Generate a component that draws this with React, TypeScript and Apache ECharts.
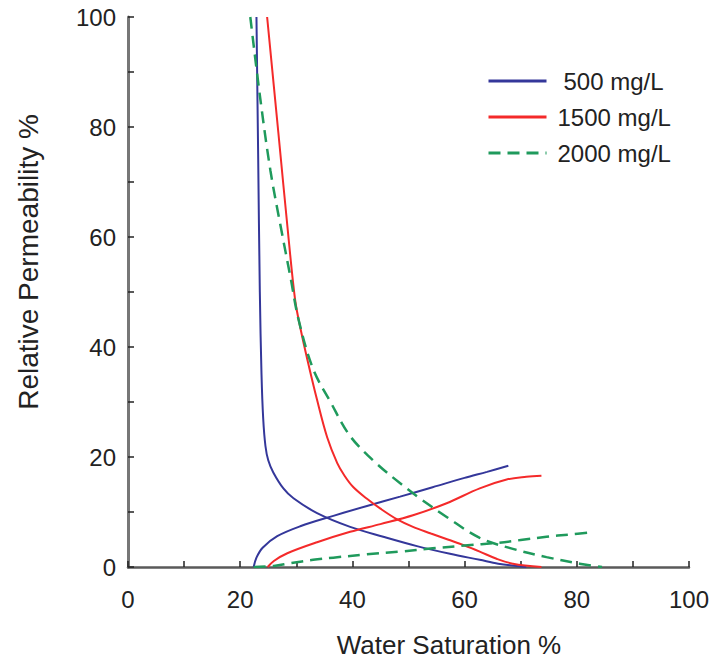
import React, { useEffect, useRef } from "react";
import * as echarts from "echarts";

const xTicks = [0, 20, 40, 60, 80, 100];
const yTicks = [0, 20, 40, 60, 80, 100];
const seriesNames = ["500 mg/L", "1500 mg/L", "2000 mg/L"];

// Water saturation (%) vs relative permeability (%)
const kro500 = [
  [22.9, 100], [23.2, 75], [23.5, 50], [23.8, 35], [24.1, 27], [24.5, 22],
  [25.0, 19.4], [25.9, 17.2], [27.7, 14.3], [29.5, 12.5], [33.7, 9.8],
  [39.6, 7.3], [45.5, 5.5], [51.5, 3.8], [57.4, 2.4], [62.7, 1.3],
  [66.0, 0.6], [71.0, 0],
];
const krw500 = [
  [22.4, 0], [22.9, 1.7], [24.0, 3.5], [26.6, 5.6], [30.7, 7.4], [36.6, 9.3],
  [42.6, 11.1], [48.5, 12.8], [54.3, 14.5], [60.0, 16.2], [64.0, 17.3], [67.8, 18.4],
];
const kro1500 = [
  [24.8, 100], [26.8, 79], [28.6, 60], [29.8, 48.5], [30.7, 43.6], [32.0, 37.6],
  [33.7, 30.4], [35.5, 23.6], [37.3, 18.9], [38.6, 16.6], [40.1, 14.6],
  [42.6, 12.4], [45.0, 10.6], [47.9, 8.7], [50.8, 7.3], [54.0, 6.1],
  [57.0, 5.0], [60.0, 3.9], [62.7, 2.8], [65.7, 1.5], [68.6, 0.6], [73.7, 0],
];
const krw1500 = [
  [24.9, 0], [26.0, 1.1], [28.4, 2.5], [33.7, 4.5], [39.6, 6.4], [45.0, 7.8],
  [50.8, 9.4], [56.8, 11.6], [62.7, 14.3], [67.5, 15.9], [71.0, 16.4], [73.7, 16.6],
];
const kro2000 = [
  [21.8, 100], [23.6, 85], [25.4, 72], [27.2, 62], [29.0, 52.5], [30.4, 45],
  [33.0, 36], [36.1, 30], [39.6, 23.8], [44.2, 18.9], [48.8, 15], [52.0, 12.5],
  [56.8, 9.1], [62.7, 5.3], [68.6, 3.3], [74.6, 1.8], [80.5, 0.6], [84.5, 0],
];
const krw2000 = [
  [22.4, 0], [26.0, 0.2], [29.0, 0.7], [33.0, 1.3], [36.6, 1.7], [42.6, 2.3],
  [48.5, 2.8], [54.3, 3.4], [60.0, 3.9], [66.0, 4.4], [70.0, 4.9], [74.6, 5.5],
  [78.6, 5.9], [82.6, 6.3],
];

const COLORS = ["#34379a", "#f42a2a", "#1f9a5c"];
const FONT = "'Liberation Sans', Arial, sans-serif";

export default function App() {
  const ref = useRef<HTMLDivElement>(null);
  useEffect(() => {
    if (!ref.current) return;
    const chart = echarts.init(ref.current, null, { renderer: "svg" });
    const mk = (name: string, data: number[][], idx: number) => ({
      name,
      type: "line",
      data,
      smooth: 0.35,
      symbol: "none",
      showSymbol: false,
      color: COLORS[idx],
      lineStyle: {
        color: COLORS[idx],
        width: idx === 2 ? 2.5 : 2,
        type: idx === 2 ? [12, 7] : "solid",
      },
    });
    const tickFmt = (list: number[]) => (v: number) =>
      list.includes(v) ? String(v) : "";
    chart.setOption({
      animation: false,
      grid: { left: 128, right: 22, top: 17, bottom: 94 },
      legend: {
        left: 482,
        top: 64,
        orient: "vertical",
        itemWidth: 58,
        itemHeight: 14,
        itemGap: 12,
        itemStyle: { opacity: 0 },
        lineStyle: { width: 3 },
        textStyle: {
          fontFamily: FONT,
          fontSize: 24,
          color: "#222",
          lineHeight: 24,
        },
        data: [
          { name: seriesNames[0], textStyle: { padding: [0, 0, 0, 12] } },
          { name: seriesNames[1], textStyle: { padding: [0, 0, 0, 6] } },
          { name: seriesNames[2], textStyle: { padding: [0, 0, 0, 6] } },
        ],
      },
      xAxis: {
        type: "value",
        min: 0,
        max: 100,
        interval: 10,
        splitLine: { show: false },
        axisLine: { lineStyle: { color: "#5a5a5a", width: 2.5 } },
        axisTick: { inside: true, length: 6, lineStyle: { color: "#222", width: 1.5 } },
        axisLabel: {
          formatter: tickFmt(xTicks),
          fontFamily: FONT,
          fontSize: 24,
          color: "#222",
          margin: 20,
        },
      },
      yAxis: {
        type: "value",
        min: 0,
        max: 100,
        interval: 10,
        splitLine: { show: false },
        axisLine: { show: true, lineStyle: { color: "#777", width: 3 } },
        axisTick: { show: true, inside: true, length: 6, lineStyle: { color: "#222", width: 1.5 } },
        axisLabel: {
          formatter: tickFmt(yTicks),
          fontFamily: FONT,
          fontSize: 24,
          color: "#222",
          margin: 12,
        },
      },
      graphic: [
        {
          type: "text",
          x: 28,
          y: 262,
          rotation: Math.PI / 2,
          style: {
            text: "Relative Permeability %",
            fontFamily: FONT,
            fontSize: 28,
            fill: "#222",
            textAlign: "center",
            textVerticalAlign: "middle",
          },
        },
        {
          type: "text",
          x: 449,
          y: 645,
          style: {
            text: "Water Saturation %",
            fontFamily: FONT,
            fontSize: 26,
            fill: "#222",
            textAlign: "center",
            textVerticalAlign: "middle",
          },
        },
      ],
      series: [
        mk(seriesNames[0], kro500, 0),
        mk(seriesNames[0], krw500, 0),
        mk(seriesNames[1], kro1500, 1),
        mk(seriesNames[1], krw1500, 1),
        mk(seriesNames[2], kro2000, 2),
        mk(seriesNames[2], krw2000, 2),
      ],
    });
    return () => chart.dispose();
  }, []);
  return <div ref={ref} style={{ width: 712, height: 661, position: "absolute", left: 0, top: 0 }} />;
}
